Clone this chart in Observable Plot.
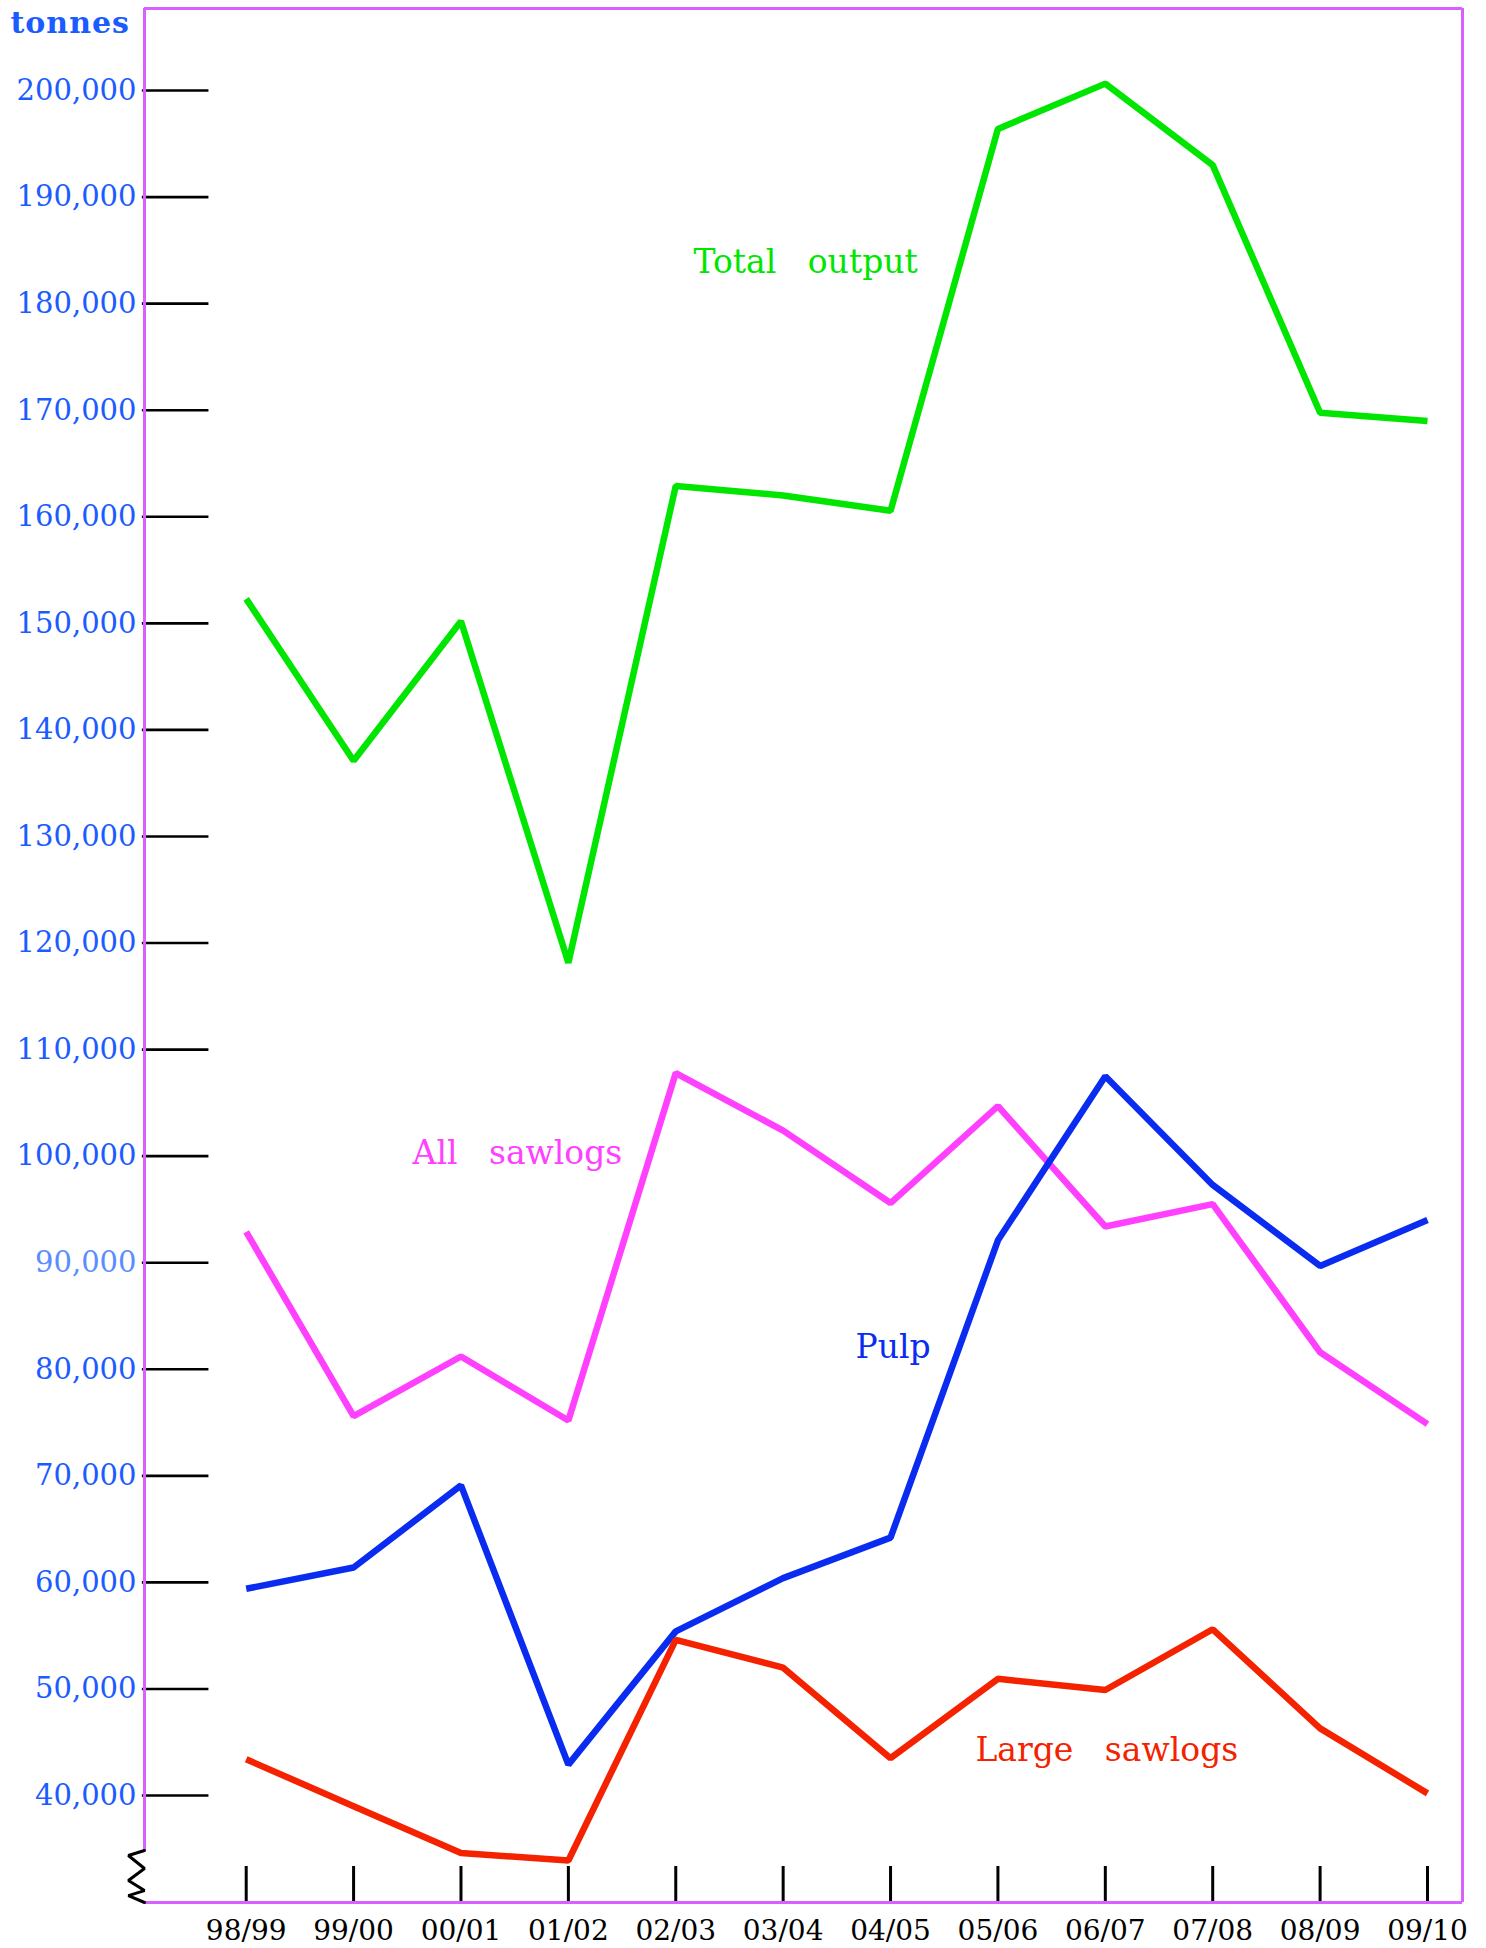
<!DOCTYPE html>
<html>
<head>
<meta charset="utf-8">
<script src="https://cdn.jsdelivr.net/npm/d3@7"></script>
<script src="https://cdn.jsdelivr.net/npm/@observablehq/plot@0.6"></script>
<style>
  html, body { margin: 0; padding: 0; background: #fff; }
</style>
</head>
<body>
<div id="chart"></div>
<script>
// ---- data ----
const years = ["98/99","99/00","00/01","01/02","02/03","03/04","04/05","05/06","06/07","07/08","08/09","09/10"];
const totalOutput  = [152300,137100,150200,118150,162900,162000,160560,196400,200650,193000,169770,169000];
const allSawlogs   = [92900,75600,81200,75200,107800,102400,95600,104700,93400,95500,81600,74850];
const pulp         = [59400,61400,69100,42900,55400,60400,64200,92100,107500,97300,89700,94000];
const largeSawlogs = [43400,39000,34600,33900,54600,52000,43500,50950,49900,55600,46300,40200];
const yTicks = [40000,50000,60000,70000,80000,90000,100000,110000,120000,130000,140000,150000,160000,170000,180000,190000,200000];
const seriesNames  = ["Total output","All sawlogs","Pulp","Large sawlogs"];
const seriesColors = ["#00e600","#ff40ff","#0a2cf0","#f52200"];
const labelTexts   = ["Total\u00a0\u00a0 output","All\u00a0\u00a0 sawlogs","Pulp","Large\u00a0\u00a0 sawlogs"];
const labelX       = [4.165, 1.549, 5.674, 6.79];
const labelY       = [183870, 100240, 82040, 44220];
const unitLabel    = "tonnes";

// ---- styling / layout ----
const W = 1486, H = 1948;
const xDom = [-0.947, 11.326];
const yDom = [29960, 207700];
const breakTop = 34840;          // where the left frame line gives way to the axis-break zigzag
const frameColor = "#d860ff";
const tickBlue = "#1a5cff";
const serif = "DejaVu Serif";

const series = [totalOutput, allSawlogs, pulp, largeSawlogs];
const table = series.flatMap((vals, s) => vals.map((v, i) => ({i, value: v, series: seriesNames[s]})));
const labels = seriesNames.map((n, s) => ({name: n, text: labelTexts[s], x: labelX[s], y: labelY[s], color: seriesColors[s]}));

// axis-break zigzag: alternate between frame edge and a bit left of it
const zigY = [34840, 34370, 33150, 32020, 31080, 30610, 29960];
const zig = zigY.map((y, k) => ({x: k % 2 === 0 ? xDom[0] : xDom[0] - 0.15, y}));

const yTickLenUnits = 0.6;       // inward tick length in x-units
const xTickLenUnits = 3380;      // inward tick length in y-units

const chart = Plot.plot({
  width: W,
  height: H,
  marginLeft: 144,
  marginRight: 24,
  marginTop: 8,
  marginBottom: 46,
  style: {fontFamily: serif, fontSize: "29px", background: "#fff", overflow: "visible"},
  x: {type: "linear", domain: xDom},
  y: {type: "linear", domain: yDom},
  color: {domain: seriesNames, range: seriesColors},
  marks: [
    // inward y ticks
    Plot.ruleY(yTicks, {y: d => d, x1: xDom[0] - 0.02, x2: xDom[0] + yTickLenUnits, stroke: "black", strokeWidth: 2.6}),
    // inward x ticks
    Plot.ruleX(d3.range(years.length), {x: d => d, y1: yDom[0], y2: yDom[0] + xTickLenUnits, stroke: "black", strokeWidth: 3}),
    // frame (top, bottom, right, left above the break)
    Plot.ruleY([yDom[1]], {x1: xDom[0], x2: xDom[1], stroke: frameColor, strokeWidth: 3}),
    Plot.ruleY([yDom[0]], {x1: xDom[0], x2: xDom[1], stroke: frameColor, strokeWidth: 3}),
    Plot.ruleX([xDom[1]], {y1: yDom[0], y2: yDom[1], stroke: frameColor, strokeWidth: 3}),
    Plot.ruleX([xDom[0]], {y1: breakTop, y2: yDom[1], stroke: frameColor, strokeWidth: 3}),
    // axis break
    Plot.line(zig, {x: "x", y: "y", stroke: "black", strokeWidth: 3, curve: "linear", strokeLinejoin: "miter"}),
    // series lines
    Plot.line(table, {x: "i", y: "value", z: "series", stroke: "series", strokeWidth: 6.5, strokeLinejoin: "miter", strokeLinecap: "butt"}),
    // axes
    Plot.axisY(yTicks, {
      anchor: "left", tickSize: 0, tickPadding: 8, label: null,
      tickFormat: d => d3.format(",")(d),
      fill: d => d === 90000 ? "#5a8dff" : tickBlue,
      fontSize: 29
    }),
    Plot.axisX(d3.range(years.length), {
      anchor: "bottom", tickSize: 0, tickPadding: 18, label: null,
      tickFormat: i => years[i], fill: "black", fontSize: 28
    }),
    // unit label
    Plot.text([unitLabel], {frameAnchor: "top-left", dx: -134, dy: 15, text: d => d, textAnchor: "start", lineAnchor: "middle",
      fill: tickBlue, fontSize: 30, fontWeight: "bold"}),
    // series labels
    Plot.text(labels, {x: "x", y: "y", text: "text", fill: "color", textAnchor: "start", lineAnchor: "middle", fontSize: 33})
  ]
});

document.getElementById("chart").appendChild(chart);
// letter spacing for the unit label
d3.select(chart).selectAll("text").filter(function() { return this.textContent === unitLabel; })
  .style("letter-spacing", "1px");
</script>
</body>
</html>
